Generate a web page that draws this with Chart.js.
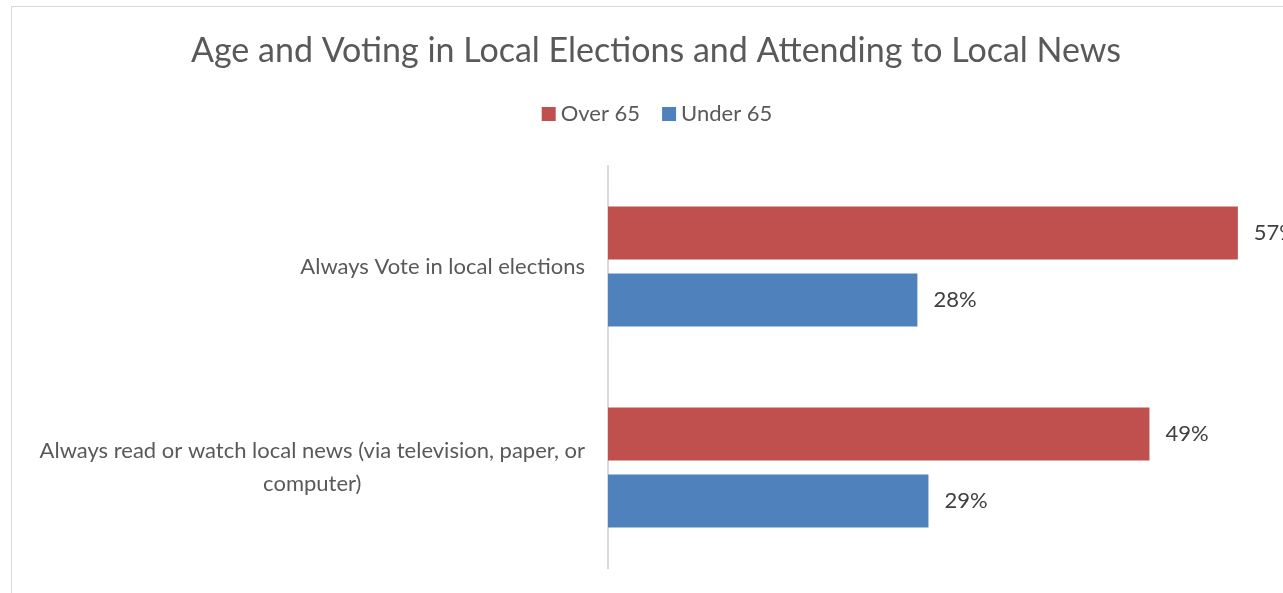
<!DOCTYPE html>
<html>
<head>
<meta charset="utf-8">
<script src="https://cdn.jsdelivr.net/npm/chart.js@4"></script>
<style>
  html, body { margin: 0; padding: 0; background: #fff; overflow: hidden; }
  #frame {
    position: absolute; left: 11px; top: 6px;
    width: 1290px; height: 600px;
    border: 1px solid #d9d9d9;
  }
</style>
</head>
<body>
<div id="frame"><canvas id="chart" width="1290" height="600"></canvas></div>
<script>
  // chart data
  const titleText = 'Age and Voting in Local Elections and Attending to Local News';
  const categories = [
    ['Always Vote in local elections'],
    ['Always read or watch local news (via television, paper, or', 'computer)']
  ];
  const seriesNames = ['Over 65', 'Under 65'];
  const over65 = [57, 49];
  const under65 = [28, 29];
  const colors = ['#C0504D', '#4F81BD'];

  const FONT = 'Lato, "Open Sans", sans-serif';

  // title, legend, category labels and value labels drawn by hand
  const decorPlugin = {
    id: 'decor',
    afterDraw(chart) {
      const ctx = chart.ctx;
      const area = chart.chartArea;
      const cx = chart.width / 2;
      ctx.save();
      ctx.textBaseline = 'middle';

      // title
      ctx.fillStyle = '#595959';
      ctx.font = '34px ' + FONT;
      ctx.textAlign = 'center';
      ctx.fillText(titleText, cx - 1, 44);

      // legend
      ctx.font = '22px ' + FONT;
      const box = 14, gapText = 5, gapItem = 22;
      const widths = seriesNames.map(n => ctx.measureText(n).width);
      let total = 0;
      widths.forEach((w, i) => { total += box + gapText + w + (i ? gapItem : 0); });
      let x = cx - total / 2;
      ctx.textAlign = 'left';
      seriesNames.forEach((n, i) => {
        ctx.fillStyle = colors[i];
        ctx.fillRect(x, 107 - box / 2, box, box);
        ctx.fillStyle = '#595959';
        ctx.fillText(n, x + box + gapText, 107);
        x += box + gapText + widths[i] + gapItem;
      });

      // category labels: block right-aligned, lines centred
      const yScale = chart.scales.y;
      const right = area.left - 23;
      const lineH = 33;
      ctx.textAlign = 'center';
      ctx.fillStyle = '#595959';
      categories.forEach((lines, i) => {
        const yc = yScale.getPixelForValue(i);
        const maxW = Math.max(...lines.map(l => ctx.measureText(l).width));
        const xc = right - maxW / 2;
        lines.forEach((l, k) => {
          ctx.fillText(l, xc, yc + (k - (lines.length - 1) / 2) * lineH);
        });
      });

      // value labels
      ctx.textAlign = 'left';
      ctx.fillStyle = '#404040';
      chart.data.datasets.forEach((ds, di) => {
        chart.getDatasetMeta(di).data.forEach((bar, j) => {
          ctx.fillText(ds.data[j] + '%', bar.x + 16, bar.y);
        });
      });
      ctx.restore();
    }
  };

  const chart = new Chart(document.getElementById('chart'), {
    type: 'bar',
    data: {
      labels: categories.map(c => c.join(' ')),
      datasets: [
        { label: seriesNames[0], data: over65, backgroundColor: colors[0] },
        { label: seriesNames[1], data: under65, backgroundColor: colors[1] }
      ]
    },
    options: {
      indexAxis: 'y',
      responsive: false,
      animation: false,
      layout: { padding: { left: 588, top: 159, right: 31, bottom: 39 } },
      datasets: { bar: { categoryPercentage: 0.667, barPercentage: 0.79 } },
      scales: {
        x: { display: false, min: 0, max: 60 },
        y: {
          ticks: { display: false },
          grid: { display: false },
          border: { display: true, color: '#d9d9d9', width: 2 }
        }
      },
      plugins: {
        legend: { display: false },
        title: { display: false },
        tooltip: { enabled: false }
      }
    },
    plugins: [decorPlugin]
  });
</script>
</body>
</html>
